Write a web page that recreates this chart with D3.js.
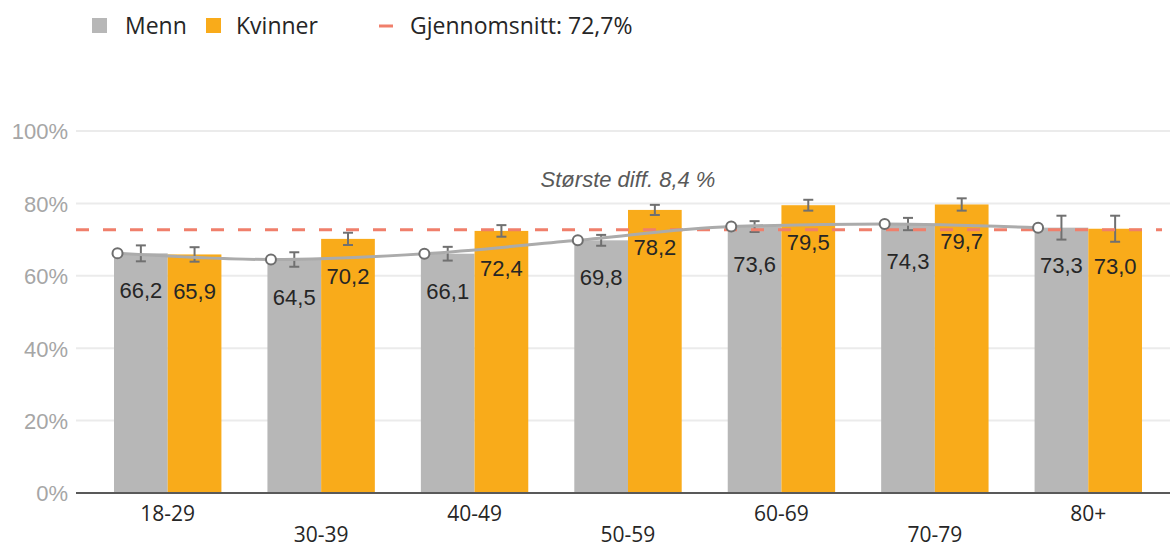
<!DOCTYPE html>
<html>
<head>
<meta charset="utf-8">
<style>
    body { margin: 0; background: #fff; }
    svg { display: block; }
    .legend, .xlab { font-family: "Open Sans", "Noto Sans", sans-serif; fill: #262626; }
    .ytick { font-family: "Liberation Sans", Arial, sans-serif; fill: #a6a6a6; font-size: 22px; }
    .val { font-family: "Liberation Sans", Arial, sans-serif; fill: #262626; font-size: 22px; }
    .note { font-family: "Liberation Sans", Arial, sans-serif; fill: #595959; font-size: 22px; font-style: italic; }
</style>
<script src="https://cdn.jsdelivr.net/npm/d3@7"></script>
</head>
<body>
<svg width="1170" height="548"></svg>
<script>
    // data
    var categories = ["18-29", "30-39", "40-49", "50-59", "60-69", "70-79", "80+"];
    var menn = [66.2, 64.5, 66.1, 69.8, 73.6, 74.3, 73.3];
    var kvinner = [65.9, 70.2, 72.4, 78.2, 79.5, 79.7, 73.0];
    var mennErr = [2.2, 2.0, 1.9, 1.5, 1.5, 1.7, 3.3];
    var kvinnerErr = [2.0, 1.7, 1.6, 1.4, 1.5, 1.7, 3.6];
    var average = 72.7;
    var yTicks = [0, 20, 40, 60, 80, 100];
    var seriesNames = ["Menn", "Kvinner"];
    var note = "Største diff. 8,4 %";

    var colors = { Menn: "#b7b7b7", Kvinner: "#f9ab1a" };
    var fmt = function (v) { return v.toFixed(1).replace(".", ","); };

    var svg = d3.select("svg");

    var x = d3.scaleBand().domain(categories).range([91, 1165]).paddingInner(0.3).paddingOuter(0.15);
    var x1 = d3.scaleBand().domain(seriesNames).range([0, x.bandwidth()]);
    var y = d3.scaleLinear().domain([0, 100]).range([493, 131]);

    // gridlines
    svg.append("g").selectAll("line").data(yTicks.filter(function (d) { return d > 0; })).enter()
        .append("line")
        .attr("x1", 76).attr("x2", 1170)
        .attr("y1", function (d) { return y(d); }).attr("y2", function (d) { return y(d); })
        .attr("stroke", "#ebebeb").attr("stroke-width", 2);

    // y axis labels
    var yAxis = d3.axisLeft(y).tickValues(yTicks).tickSize(0).tickPadding(0)
        .tickFormat(function (d) { return d + "%"; });
    var ya = svg.append("g").attr("transform", "translate(68,0)").call(yAxis);
    ya.select(".domain").remove();
    ya.selectAll("text").attr("class", "ytick").attr("fill", null).attr("font-size", null)
        .attr("font-family", null).attr("dy", "0.36em");

    // bars
    var rows = categories.map(function (c, i) {
        return [
            { cat: c, s: "Menn", v: menn[i], e: mennErr[i] },
            { cat: c, s: "Kvinner", v: kvinner[i], e: kvinnerErr[i] }
        ];
    });
    var groups = svg.append("g").selectAll("g").data(rows).enter()
        .append("g").attr("transform", function (d) { return "translate(" + x(d[0].cat) + ",0)"; });

    groups.selectAll("rect").data(function (d) { return d; }).enter()
        .append("rect")
        .attr("x", function (d) { return x1(d.s); })
        .attr("width", x1.bandwidth())
        .attr("y", function (d) { return y(d.v); })
        .attr("height", function (d) { return y(0) - y(d.v); })
        .attr("fill", function (d) { return colors[d.s]; });

    // average dashed line
    svg.append("line")
        .attr("x1", 76).attr("x2", 1162)
        .attr("y1", y(average)).attr("y2", y(average))
        .attr("stroke", "#f07f6b").attr("stroke-width", 3)
        .attr("stroke-dasharray", "13,14");

    // trend line for Menn
    var linePts = categories.map(function (c, i) { return [x(c) + 3.5, y(menn[i])]; });
    svg.append("path").datum(linePts)
        .attr("fill", "none").attr("stroke", "#ababab").attr("stroke-width", 3)
        .attr("d", d3.line().curve(d3.curveMonotoneX));

    // error bars
    var eb = groups.selectAll(".err").data(function (d) { return d; }).enter()
        .append("g").attr("class", "err")
        .attr("transform", function (d) { return "translate(" + (x1(d.s) + x1.bandwidth() / 2) + ",0)"; })
        .attr("stroke", "#707070").attr("stroke-width", 2);
    eb.append("line").attr("y1", function (d) { return y(d.v + d.e); }).attr("y2", function (d) { return y(d.v - d.e); });
    eb.append("line").attr("x1", -5).attr("x2", 5)
        .attr("y1", function (d) { return y(d.v + d.e); }).attr("y2", function (d) { return y(d.v + d.e); });
    eb.append("line").attr("x1", -5).attr("x2", 5)
        .attr("y1", function (d) { return y(d.v - d.e); }).attr("y2", function (d) { return y(d.v - d.e); });

    // circles
    svg.append("g").selectAll("circle").data(linePts).enter()
        .append("circle")
        .attr("cx", function (d) { return d[0]; }).attr("cy", function (d) { return d[1]; })
        .attr("r", 5).attr("fill", "#fff").attr("stroke", "#6e6e6e").attr("stroke-width", 2);

    // value labels
    groups.selectAll(".val").data(function (d) { return d; }).enter()
        .append("text").attr("class", "val")
        .attr("text-anchor", "middle")
        .attr("x", function (d) { return x1(d.s) + x1.bandwidth() / 2; })
        .attr("y", function (d) { return y(d.v) + 45; })
        .text(function (d) { return fmt(d.v); });

    // x axis
    svg.append("line").attr("x1", 76).attr("x2", 1170).attr("y1", y(0)).attr("y2", y(0))
        .attr("stroke", "#595959").attr("stroke-width", 2);
    svg.append("g").selectAll("text").data(categories).enter()
        .append("text").attr("class", "xlab")
        .attr("font-size", 21)
        .attr("text-anchor", "middle")
        .attr("x", function (d) { return x(d) + x.bandwidth() / 2; })
        .attr("y", function (d, i) { return i % 2 === 0 ? 521 : 542; })
        .text(function (d) { return d; });

    // annotation
    svg.append("text").attr("class", "note").attr("text-anchor", "middle")
        .attr("x", x(categories[3]) + x.bandwidth() / 2).attr("y", 187)
        .text(note);

    // legend
    var lg = svg.append("g");
    lg.append("rect").attr("x", 92).attr("y", 18).attr("width", 15).attr("height", 15).attr("fill", colors.Menn);
    lg.append("text").attr("class", "legend").attr("font-size", 23).attr("x", 125).attr("y", 34).text("Menn");
    lg.append("rect").attr("x", 206).attr("y", 18).attr("width", 15).attr("height", 15).attr("fill", colors.Kvinner);
    lg.append("text").attr("class", "legend").attr("font-size", 23).attr("x", 236).attr("y", 34).text("Kvinner");
    lg.append("line").attr("x1", 379).attr("x2", 393).attr("y1", 26).attr("y2", 26)
        .attr("stroke", "#f07f6b").attr("stroke-width", 3);
    lg.append("text").attr("class", "legend").attr("font-size", 23).attr("x", 410).attr("y", 34)
        .text("Gjennomsnitt: " + fmt(average) + "%");
</script>
</body>
</html>
